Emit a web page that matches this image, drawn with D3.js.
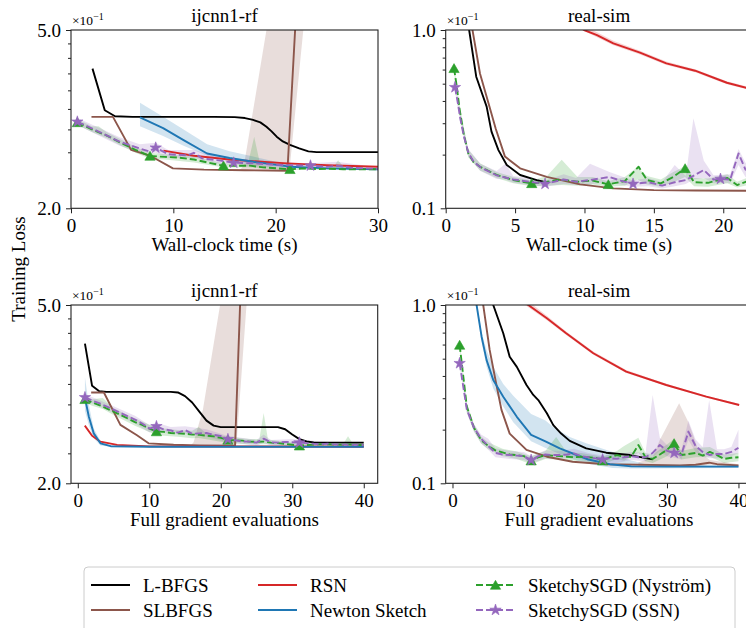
<!DOCTYPE html>
<html>
<head>
<meta charset="utf-8">
<script src="https://cdn.jsdelivr.net/npm/d3@7"></script>
<style>
  html, body { margin: 0; padding: 0; background: #fff; }
  svg { display: block; }
  svg text { font-family: "Liberation Serif", "DejaVu Serif", "Noto Serif", serif; }
</style>
</head>
<body>
<svg id="fig" width="746" height="628"></svg>
<script>
// ---------------------------------------------------------------
// Training loss curves: ijcnn1-rf and real-sim, against wall-clock
// time (top row) and full gradient evaluations (bottom row).
// Points are [x, loss]; bands are [x, lower, upper].
// ---------------------------------------------------------------

// tick values
const timeTicksIjcnn = [0, 10, 20, 30];
const timeTicksRealSim = [0, 5, 10, 15, 20];
const evalTicks = [0, 10, 20, 30, 40];
const ijcnnMajor = [0.2, 0.5];
const ijcnnMinor = [0.2333, 0.2667, 0.3, 0.3333, 0.3667, 0.4, 0.4333, 0.4667];
const realSimMajor = [0.01, 0.1];
const realSimMinor = [0.02, 0.03, 0.04, 0.05, 0.06, 0.07, 0.08, 0.09];

// method names for the legend (column order)
const methods = ["L-BFGS", "SLBFGS", "RSN", "Newton Sketch", "SketchySGD (Nyström)", "SketchySGD (SSN)"];

// ---------- ijcnn1-rf, wall-clock time ----------
const lbfgsTL = [[2.1,0.41],[3.3,0.331],[4.3,0.321],[6,0.320],[10,0.320],[14,0.320],[16,0.3195],[17,0.318],[17.8,0.315],[18.5,0.311],[19.1,0.304],[19.6,0.297],[20.1,0.289],[20.7,0.282],[21.4,0.277],[22.3,0.272],[23.2,0.268],[24,0.267],[30,0.267]];
const slbfgsTL = [[2.0,0.320],[4.1,0.320],[5.87,0.270],[7.74,0.262],[9.96,0.2456],[13,0.2440],[17,0.2432],[21.15,0.2426],[21.9,0.5],[22.5,0.8]];
const slbfgsBandTL = [[16.5,0.2432,0.2432],[16.9,0.2432,0.25],[17.2,0.243,0.274],[19.1,0.243,0.5],[20,0.243,0.65],[21.15,0.2426,0.85],[21.4,0.25,0.9],[22.7,0.5,1.0],[23.5,0.8,1.2]];
const rsnTL = [[9.03,0.269],[12,0.262],[15.9,0.2563],[21.1,0.252],[25,0.2495],[30,0.2477]];
const nsTL = [[6.74,0.319],[9,0.302],[11,0.284],[13.3,0.265],[15.5,0.259],[17.8,0.254],[21.4,0.2477],[25,0.2455],[30,0.2444]];
const nsBandTL = [[6.74,0.305,0.344],[9,0.290,0.320],[11,0.276,0.300],[13.3,0.262,0.278],[15.5,0.255,0.268],[17.8,0.251,0.261],[21.4,0.246,0.250],[30,0.2435,0.2453]];
const nysTL = [[0.62,0.311],[2.04,0.300],[3.46,0.291],[4.88,0.280],[6.30,0.270],[7.72,0.2617],[9.16,0.2605],[10.59,0.2595],[12.03,0.257],[13.46,0.2527],[14.9,0.249],[16.2,0.2488],[17.5,0.249],[18.8,0.2468],[20.1,0.2456],[21.4,0.2444],[22.7,0.2455],[24.0,0.2448],[25.3,0.245],[26.6,0.2445],[27.9,0.2444],[29.2,0.2443],[30.0,0.2444]];
const nysMarksTL = [0, 5, 10, 15];
const nysBandTL = [[0.62,0.307,0.316],[2.04,0.296,0.305],[2.7,0.292,0.305],[3.46,0.287,0.296],[4.88,0.276,0.285],[6.3,0.266,0.274],[7.72,0.258,0.266],[9.16,0.257,0.264],[10.59,0.255,0.263],[12.03,0.253,0.262],[13.46,0.250,0.256],[14.9,0.2465,0.252],[16.2,0.2465,0.251],[17.3,0.247,0.252],[17.9,0.2465,0.289],[18.5,0.2455,0.250],[20.1,0.2445,0.247],[21.4,0.2435,0.2455],[24,0.2438,0.246],[25.6,0.2438,0.2465],[26.1,0.244,0.256],[26.7,0.2438,0.2462],[30,0.2435,0.2453]];
const ssnTL = [[0.62,0.312],[2.8,0.296],[4.75,0.2816],[6.7,0.272],[7.6,0.268],[8.28,0.273],[9.5,0.264],[11.4,0.2625],[12.0,0.266],[12.8,0.2585],[14.6,0.2555],[15.9,0.2527],[18,0.252],[19.5,0.2505],[21.5,0.2495],[23.4,0.249],[25,0.2475],[26,0.249],[27.5,0.2462],[30,0.245]];
const ssnMarksTL = [0, 5, 11, 15];
const ssnBandTL = [[0.62,0.307,0.318],[2.8,0.290,0.302],[4.75,0.276,0.288],[6.7,0.266,0.278],[8.28,0.266,0.280],[9.5,0.259,0.270],[12,0.259,0.270],[14.6,0.251,0.260],[18,0.248,0.256],[21.5,0.246,0.253],[23.4,0.246,0.252],[26,0.245,0.254],[30,0.243,0.247]];

// ---------- real-sim, wall-clock time ----------
const lbfgsTR = [[1.4,0.15],[1.69,0.1],[2.2,0.0547],[2.95,0.0372],[3.3,0.0269],[3.8,0.0212],[4.4,0.0175],[5.36,0.01537],[6.56,0.0144],[7.04,0.0141]];
const slbfgsTR = [[1.6,0.15],[1.93,0.1],[2.47,0.057],[3.1,0.0385],[3.6,0.028],[4.27,0.0195],[5.36,0.01675],[7.28,0.0150],[9.68,0.01363],[12.08,0.01294],[15,0.01265],[18,0.01258],[22.1,0.01255]];
const rsnTR = [[9.5,0.106],[9.97,0.1],[10.9,0.0937],[12.08,0.0842],[14.0,0.0746],[15.9,0.065],[17.97,0.0591],[20.26,0.0506],[22.1,0.0465]];
const rsnBandTR = [[9.5,0.103,0.110],[10.9,0.091,0.097],[12.08,0.082,0.087],[14,0.0728,0.0765],[15.9,0.0636,0.0665],[17.97,0.0579,0.0603],[20.26,0.0497,0.0516],[22.1,0.0458,0.0473]];
const nysTR = [[0.6,0.061],[0.8,0.048],[1.0,0.036],[1.3,0.026],[1.63,0.0203],[2.0,0.0182],[2.47,0.0171],[3.67,0.0154],[4.87,0.0144],[6.2,0.0138],[7.3,0.0141],[8.3,0.0145],[9.5,0.0141],[10.6,0.0143],[11.72,0.01363],[12.9,0.0142],[13.9,0.0171],[14.5,0.0144],[15.5,0.0138],[16.4,0.0150],[17.25,0.01675],[17.9,0.0140],[18.9,0.0139],[20.3,0.0148],[21.0,0.0135],[22.1,0.0145]];
const nysMarksTR = [0, 9, 14, 20];
const nysBandTR = [[0.6,0.058,0.064],[1.0,0.034,0.038],[1.63,0.0193,0.0213],[2.47,0.0163,0.0179],[3.67,0.0148,0.0160],[4.87,0.0138,0.0150],[6.2,0.0133,0.0143],[7.3,0.0134,0.0152],[8.36,0.0135,0.0187],[9.5,0.0134,0.0150],[10.6,0.0136,0.0150],[11.72,0.0132,0.0142],[12.9,0.0134,0.0150],[13.8,0.0145,0.0170],[14.5,0.0136,0.0152],[15.5,0.0132,0.0145],[16.4,0.0140,0.0160],[17.25,0.0150,0.0172],[17.9,0.0133,0.0148],[18.9,0.0132,0.0147],[20.3,0.0138,0.0155],[21,0.0131,0.0141],[22.1,0.0137,0.0152]];
const ssnTR = [[0.67,0.0477],[0.85,0.040],[1.05,0.032],[1.3,0.0255],[1.63,0.0205],[2.0,0.0183],[2.5,0.0170],[3.67,0.0153],[4.87,0.0145],[6.0,0.0141],[7.16,0.0137],[8.5,0.0145],[9.4,0.0141],[10.4,0.0144],[11.8,0.0150],[12.6,0.0143],[13.5,0.0137],[14.6,0.0140],[15.6,0.0134],[16.5,0.0140],[17.3,0.0144],[18.6,0.0164],[19.3,0.0145],[19.8,0.0146],[20.5,0.0145],[21.1,0.0203],[21.6,0.0165],[22.1,0.0160]];
const ssnMarksTR = [0, 10, 16, 23];
const ssnBandTR = [[0.67,0.045,0.050],[1.05,0.030,0.034],[1.63,0.0195,0.0215],[2.5,0.0162,0.0178],[3.67,0.0146,0.0162],[4.3,0.0145,0.0178],[4.87,0.0139,0.0152],[6,0.0135,0.0148],[7.16,0.0132,0.0143],[8.5,0.0137,0.0155],[9.4,0.0135,0.0148],[10.4,0.0136,0.0178],[11.8,0.0141,0.0160],[12.6,0.0136,0.0152],[13.5,0.0132,0.0143],[14.6,0.0133,0.0148],[15.6,0.0129,0.0140],[16.5,0.0133,0.0175],[17.3,0.0137,0.0152],[17.85,0.0145,0.032],[18.6,0.0148,0.0185],[19.3,0.0138,0.0153],[19.8,0.0139,0.0154],[20.5,0.0138,0.0155],[21.1,0.0175,0.0215],[21.6,0.0150,0.0180],[22.1,0.0148,0.0175]];

// ---------- full gradient evaluations (shared x for stochastic methods) ----------
const evals = [1,2,3,4,5,6,7,8,9,10,11,12,13,14,15,16,17,18,19,20,21,22,23,24,25,26,27,28,29,30,31,32,33,34,35,36,37,38,39,40];
const evalMarks = [0, 10, 20, 30];

// ---------- ijcnn1-rf, gradient evaluations ----------
const lbfgsBL = [[1,0.41],[2,0.33],[3,0.321],[4,0.320],[13,0.320],[14,0.319],[15,0.313],[16,0.303],[17,0.289],[18,0.276],[19,0.269],[20,0.267],[28,0.267],[29,0.264],[30,0.257],[31,0.251],[32,0.248],[33,0.2468],[40,0.2465]];
const slbfgsBL = [[1.87,0.319],[3.65,0.319],[5.96,0.270],[8.28,0.256],[9.9,0.2456],[13.4,0.2438],[17,0.2430],[22.0,0.2425],[22.7,0.5],[23.2,0.8]];
const slbfgsBandBL = [[15.8,0.243,0.243],[16.2,0.243,0.247],[17.5,0.243,0.292],[19.9,0.243,0.5],[21,0.243,0.65],[22.0,0.2425,0.8],[22.2,0.245,0.85],[23.6,0.5,1.0],[24.5,0.8,1.2]];
const rsnBL = [[0.98,0.269],[2,0.2554],[3.17,0.2477],[5.5,0.2436],[10,0.2418],[40,0.2414]];
const nsBL = [[1,0.31],[1.54,0.282],[2.23,0.2585],[3.17,0.2456],[4.6,0.2420],[10,0.2414],[40,0.2412]];
const nsBandBL = [[1,0.290,0.345],[1.54,0.270,0.300],[2.23,0.252,0.265],[3.17,0.243,0.249],[4.6,0.2412,0.2428],[40,0.2408,0.2416]];
const nysBL = [0.308,0.303,0.299,0.294,0.289,0.284,0.279,0.274,0.270,0.265,0.261,0.2605,0.259,0.2585,0.258,0.257,0.2565,0.2555,0.2545,0.2525,0.250,0.2495,0.249,0.2478,0.2475,0.2478,0.2465,0.2458,0.245,0.2438,0.2426,0.2435,0.2442,0.2445,0.2445,0.244,0.2438,0.2442,0.2436,0.2435];
const nysBandBL = [[1,0.303,0.313],[2,0.298,0.308],[3.5,0.293,0.310],[5,0.284,0.294],[8,0.269,0.279],[11,0.256,0.266],[14,0.254,0.263],[16,0.252,0.262],[16.9,0.2525,0.267],[17.8,0.251,0.260],[21,0.246,0.254],[24,0.244,0.251],[25.4,0.2445,0.251],[26,0.2445,0.287],[26.6,0.2445,0.2505],[30,0.241,0.2465],[31,0.2405,0.2448],[37.2,0.2418,0.246],[37.8,0.242,0.2547],[38.4,0.2418,0.2462],[40,0.2415,0.2455]];
const ssnBL = [0.311,0.306,0.302,0.297,0.292,0.287,0.282,0.2775,0.272,0.265,0.268,0.264,0.2625,0.2595,0.263,0.258,0.2585,0.259,0.2565,0.255,0.2508,0.2495,0.248,0.2478,0.2465,0.2515,0.2468,0.2465,0.2475,0.247,0.2465,0.2458,0.245,0.2445,0.245,0.2442,0.244,0.2438,0.2437,0.2435];
const ssnBandBL = [[1,0.306,0.316],[3,0.297,0.307],[5,0.287,0.297],[8,0.272,0.283],[10,0.260,0.270],[11,0.263,0.273],[13,0.258,0.267],[15,0.258,0.268],[18,0.254,0.264],[21,0.247,0.255],[25,0.243,0.250],[26,0.246,0.257],[27,0.243,0.250],[30,0.243,0.251],[34,0.242,0.248],[40,0.2415,0.2455]];

// ---------- real-sim, gradient evaluations ----------
const lbfgsBR = [[5.2,0.12],[5.7,0.1],[7.1,0.0694],[8.0,0.0513],[9.0,0.045],[10.35,0.0356],[11.3,0.0313],[12,0.0293],[13.2,0.0247],[14.1,0.0212],[15.2,0.019],[16.4,0.0173],[18.7,0.0157],[21.5,0.01485],[24.8,0.0144],[28,0.01363]];
const slbfgsBR = [[4.0,0.12],[4.3,0.1],[5.2,0.056],[6.1,0.0364],[6.85,0.0258],[8.0,0.019],[10.35,0.0154],[13.2,0.0141],[16.8,0.0132],[21.5,0.01278],[31.8,0.0126],[34,0.0127],[35.9,0.01305],[37,0.0128],[40,0.0126]];
const slbfgsBandBR = [[26,0.0124,0.0131],[28,0.0124,0.0140],[29,0.0125,0.0175],[31.7,0.0124,0.0281],[33,0.0125,0.0220],[34.5,0.0125,0.0150],[36,0.0127,0.0135],[40,0.0124,0.0128]];
const rsnBR = [[8,0.12],[10.6,0.1],[13.2,0.0842],[15.9,0.0694],[19.7,0.0536],[24.3,0.0423],[29.9,0.0356],[35.5,0.0306],[40.1,0.0275]];
const rsnBandBR = [[8,0.116,0.126],[10.6,0.097,0.105],[13.2,0.082,0.087],[15.9,0.0678,0.0710],[19.7,0.0526,0.0548],[24.3,0.0416,0.0432],[29.9,0.0351,0.0362],[35.5,0.0302,0.0310],[40.1,0.0272,0.0279]];
const nsBR = [[3.0,0.13],[3.37,0.1],[4.07,0.0664],[4.77,0.0491],[5.7,0.038],[7.1,0.0306],[9.0,0.0236],[11,0.0187],[13,0.0172],[15,0.0157],[17,0.0146],[19,0.0136],[22,0.0128],[25,0.01245],[30,0.0124],[40,0.0124]];
const nsBandBR = [[3,0.125,0.14],[3.37,0.097,0.105],[4.07,0.062,0.070],[4.77,0.045,0.056],[5.7,0.034,0.045],[7.1,0.027,0.036],[8.5,0.022,0.031],[11,0.0172,0.0245],[13,0.0158,0.0225],[14,0.0152,0.0208],[16.4,0.0138,0.0182],[18.7,0.0129,0.0168],[22.4,0.0122,0.0150],[24.8,0.0121,0.0135],[27,0.0121,0.0128],[40,0.0122,0.0126]];
const nysBR = [0.0597,0.027,0.0205,0.0175,0.0162,0.0153,0.0149,0.0145,0.0144,0.0142,0.0134,0.0140,0.0144,0.0143,0.0142,0.0141,0.0140,0.0141,0.0140,0.0139,0.0134,0.0140,0.0144,0.0141,0.0141,0.0164,0.0140,0.0137,0.0145,0.0154,0.01676,0.0144,0.0146,0.0148,0.0143,0.0150,0.0144,0.0137,0.0139,0.0140];
const nysBandBR = [[1,0.057,0.063],[2,0.025,0.028],[3,0.0195,0.0215],[4,0.0167,0.0183],[5,0.0155,0.0170],[7,0.0142,0.0156],[9,0.0137,0.0151],[11,0.0128,0.0142],[13,0.0137,0.0152],[14.5,0.0136,0.0182],[16,0.0134,0.0149],[18,0.0134,0.0148],[21,0.0128,0.0141],[23,0.0137,0.0152],[24,0.0134,0.0162],[26,0.0148,0.0180],[27,0.0133,0.0148],[28,0.0130,0.0145],[30,0.0142,0.0165],[31,0.0155,0.0178],[32,0.0136,0.0152],[34,0.0140,0.0158],[36,0.0141,0.0160],[38,0.0130,0.0145],[40,0.0133,0.0148]];
const ssnBR = [0.0471,0.026,0.0205,0.0178,0.0162,0.0148,0.0145,0.0144,0.0143,0.0142,0.0135,0.0142,0.0145,0.0144,0.0144,0.0145,0.0147,0.0142,0.0140,0.0138,0.0136,0.0138,0.0137,0.0140,0.0142,0.0140,0.0140,0.0148,0.0164,0.0152,0.0148,0.0144,0.0195,0.0162,0.0150,0.0144,0.0146,0.0146,0.0150,0.0158];
const ssnBandBR = [[1,0.045,0.050],[2,0.0248,0.0272],[3,0.0195,0.0215],[4,0.0168,0.0188],[5,0.0154,0.0178],[6,0.0140,0.0157],[8,0.0137,0.0152],[10,0.0135,0.0150],[11,0.0129,0.0142],[13,0.0138,0.0153],[15,0.0137,0.0152],[17,0.0140,0.0156],[19,0.0133,0.0148],[21,0.0129,0.0143],[23,0.0130,0.0145],[25,0.0135,0.0150],[27,0.0133,0.0148],[28,0.0140,0.0313],[29,0.0152,0.0180],[30,0.0142,0.0164],[31,0.0139,0.0158],[32,0.0136,0.0153],[33,0.0175,0.0225],[34,0.0150,0.0176],[35,0.0141,0.0160],[35.9,0.0138,0.0293],[37,0.0138,0.0155],[38,0.0138,0.0155],[39,0.0142,0.0160],[40,0.0148,0.0200]];

// ---------------------------------------------------------------
const COLORS = { lbfgs: "#000000", slbfgs: "#8c564b", rsn: "#d62728", ns: "#1f77b4", nys: "#2ca02c", ssn: "#9467bd" };
const FS = 19;
const LW = 1.9;
const DASH = "7,3";

const pairUp = (xs, ys) => xs.map((v, i) => [v, ys[i]]);

const panels = [
  { title: "ijcnn1-rf", xlabel: "Wall-clock time (s)", box: [71, 30, 378, 208.3], xdom: [0, 30],
    ydom: [0.2, 0.5], xticks: timeTicksIjcnn, ymajor: ijcnnMajor, yminor: ijcnnMinor,
    series: [
      { pts: lbfgsTL, color: COLORS.lbfgs },
      { pts: slbfgsTL, color: COLORS.slbfgs, band: slbfgsBandTL },
      { pts: rsnTL, color: COLORS.rsn },
      { pts: nsTL, color: COLORS.ns, band: nsBandTL },
      { pts: nysTL, color: COLORS.nys, band: nysBandTL, dash: true, marker: "tri", marks: nysMarksTL },
      { pts: ssnTL, color: COLORS.ssn, band: ssnBandTL, dash: true, marker: "star", marks: ssnMarksTL }
    ] },
  { title: "real-sim", xlabel: "Wall-clock time (s)", box: [445.7, 30, 752.4, 208.3], xdom: [0, 22.1],
    ydom: [0.01, 0.1], xticks: timeTicksRealSim, ymajor: realSimMajor, yminor: realSimMinor,
    series: [
      { pts: lbfgsTR, color: COLORS.lbfgs },
      { pts: slbfgsTR, color: COLORS.slbfgs },
      { pts: rsnTR, color: COLORS.rsn, band: rsnBandTR },
      { pts: nysTR, color: COLORS.nys, band: nysBandTR, dash: true, marker: "tri", marks: nysMarksTR },
      { pts: ssnTR, color: COLORS.ssn, band: ssnBandTR, dash: true, marker: "star", marks: ssnMarksTR }
    ] },
  { title: "ijcnn1-rf", xlabel: "Full gradient evaluations", box: [71, 305, 377.7, 483.3], xdom: [-0.95, 41.95],
    ydom: [0.2, 0.5], xticks: evalTicks, ymajor: ijcnnMajor, yminor: ijcnnMinor,
    series: [
      { pts: lbfgsBL, color: COLORS.lbfgs },
      { pts: slbfgsBL, color: COLORS.slbfgs, band: slbfgsBandBL },
      { pts: rsnBL, color: COLORS.rsn },
      { pts: nsBL, color: COLORS.ns, band: nsBandBL },
      { pts: pairUp(evals, nysBL), color: COLORS.nys, band: nysBandBL, dash: true, marker: "tri", marks: evalMarks },
      { pts: pairUp(evals, ssnBL), color: COLORS.ssn, band: ssnBandBL, dash: true, marker: "star", marks: evalMarks }
    ] },
  { title: "real-sim", xlabel: "Full gradient evaluations", box: [445.7, 305, 752.4, 483.3], xdom: [-0.95, 41.95],
    ydom: [0.01, 0.1], xticks: evalTicks, ymajor: realSimMajor, yminor: realSimMinor,
    series: [
      { pts: lbfgsBR, color: COLORS.lbfgs },
      { pts: slbfgsBR, color: COLORS.slbfgs, band: slbfgsBandBR },
      { pts: rsnBR, color: COLORS.rsn, band: rsnBandBR },
      { pts: nsBR, color: COLORS.ns, band: nsBandBR },
      { pts: pairUp(evals, nysBR), color: COLORS.nys, band: nysBandBR, dash: true, marker: "tri", marks: evalMarks },
      { pts: pairUp(evals, ssnBR), color: COLORS.ssn, band: ssnBandBR, dash: true, marker: "star", marks: evalMarks }
    ] }
];

const svg = d3.select("#fig");
const defs = svg.append("defs");
svg.append("rect").attr("width", 746).attr("height", 628).attr("fill", "#fff");

const triSym = d3.symbol().type(d3.symbolTriangle).size(46)();
const starSym = d3.symbol().type(d3.symbolStar).size(40)();

function drawMarker(g, kind, cx, cy, color) {
  g.append("path")
    .attr("d", kind === "tri" ? triSym : starSym)
    .attr("transform", `translate(${cx},${cy + (kind === "tri" ? 1.3 : 0)})`)
    .attr("fill", color)
    .attr("stroke", color)
    .attr("stroke-width", 0.6);
}

function styleAxis(sel) {
  sel.select(".domain").remove();
  sel.attr("font-family", null);
  sel.selectAll("line").attr("stroke", "#222").attr("stroke-width", 1);
  sel.selectAll("text").attr("font-size", FS).attr("fill", "#000");
}

panels.forEach((p, i) => {
  const [L, T, R, B] = p.box;
  const x = d3.scaleLinear().domain(p.xdom).range([L, R]);
  const y = d3.scaleLog().domain(p.ydom).range([B, T]);
  const g = svg.append("g");

  defs.append("clipPath").attr("id", "clip" + i)
    .append("rect").attr("x", L).attr("y", T).attr("width", R - L).attr("height", B - T);
  const plot = g.append("g").attr("clip-path", `url(#clip${i})`);

  // shaded spread bands
  const area = d3.area().x(d => x(d[0])).y0(d => y(d[1])).y1(d => y(d[2]));
  p.series.forEach(s => {
    if (!s.band) return;
    plot.append("path").datum(s.band).attr("d", area)
      .attr("fill", s.color).attr("fill-opacity", 0.2).attr("stroke", "none");
  });

  // mean curves
  const line = d3.line().x(d => x(d[0])).y(d => y(d[1]));
  p.series.forEach(s => {
    plot.append("path").datum(s.pts).attr("d", line)
      .attr("fill", "none").attr("stroke", s.color).attr("stroke-width", LW)
      .attr("stroke-linejoin", "round")
      .attr("stroke-dasharray", s.dash ? DASH : null);
    if (s.marker) {
      s.marks.forEach(k => drawMarker(plot, s.marker, x(s.pts[k][0]), y(s.pts[k][1]), s.color));
    }
  });

  // axes
  const xa = g.append("g").attr("transform", `translate(0,${B})`)
    .call(d3.axisBottom(x).tickValues(p.xticks).tickSize(5).tickPadding(5).tickFormat(d3.format("d")));
  styleAxis(xa);
  const yMinor = g.append("g").attr("transform", `translate(${L},0)`)
    .call(d3.axisLeft(y).tickValues(p.yminor).tickSize(3).tickFormat(""));
  styleAxis(yMinor);
  const yMajor = g.append("g").attr("transform", `translate(${L},0)`)
    .call(d3.axisLeft(y).tickValues(p.ymajor).tickSize(5).tickPadding(5).tickFormat(v => (v * 10).toFixed(1)));
  styleAxis(yMajor);

  g.append("rect").attr("x", L).attr("y", T).attr("width", R - L).attr("height", B - T)
    .attr("fill", "none").attr("stroke", "#222").attr("stroke-width", 1.1);

  // scale factor shown above the y axis
  const off = g.append("text").attr("x", L + 1).attr("y", T - 5)
    .attr("font-size", 13.5).attr("fill", "#000");
  off.append("tspan").text("×10");
  off.append("tspan").attr("dy", -5).attr("font-size", 10).text("−1");

  g.append("text").attr("x", (L + R) / 2).attr("y", T - 8)
    .attr("text-anchor", "middle").attr("font-size", FS)
    .text(p.title);
  g.append("text").attr("x", (L + R) / 2).attr("y", B + 42.5)
    .attr("text-anchor", "middle").attr("font-size", FS)
    .text(p.xlabel);
});

// shared y label
svg.append("text").attr("transform", "translate(25,269) rotate(-90)")
  .attr("text-anchor", "middle").attr("font-size", FS)
  .text("Training Loss");

// legend
const legend = svg.append("g");
legend.append("rect").attr("x", 84).attr("y", 567).attr("width", 651).attr("height", 80)
  .attr("rx", 4).attr("fill", "#fff").attr("fill-opacity", 0.8)
  .attr("stroke", "#cccccc").attr("stroke-width", 1);

const legendItems = [
  { label: methods[0], color: COLORS.lbfgs, col: 0, row: 0 },
  { label: methods[1], color: COLORS.slbfgs, col: 0, row: 1 },
  { label: methods[2], color: COLORS.rsn, col: 1, row: 0 },
  { label: methods[3], color: COLORS.ns, col: 1, row: 1 },
  { label: methods[4], color: COLORS.nys, col: 2, row: 0, dash: true, marker: "tri" },
  { label: methods[5], color: COLORS.ssn, col: 2, row: 1, dash: true, marker: "star" }
];
const colX = [91, 258, 476];
const rowY = [585, 610];
legendItems.forEach(it => {
  const x0 = colX[it.col], yy = rowY[it.row];
  legend.append("line").attr("x1", x0).attr("x2", x0 + 39).attr("y1", yy).attr("y2", yy)
    .attr("stroke", it.color).attr("stroke-width", LW)
    .attr("stroke-dasharray", it.dash ? DASH : null);
  if (it.marker) drawMarker(legend, it.marker, x0 + 19.5, yy, it.color);
  legend.append("text").attr("x", x0 + 52).attr("y", yy + 6.5)
    .attr("font-size", FS).attr("fill", "#000")
    .text(it.label);
});
</script>
</body>
</html>
